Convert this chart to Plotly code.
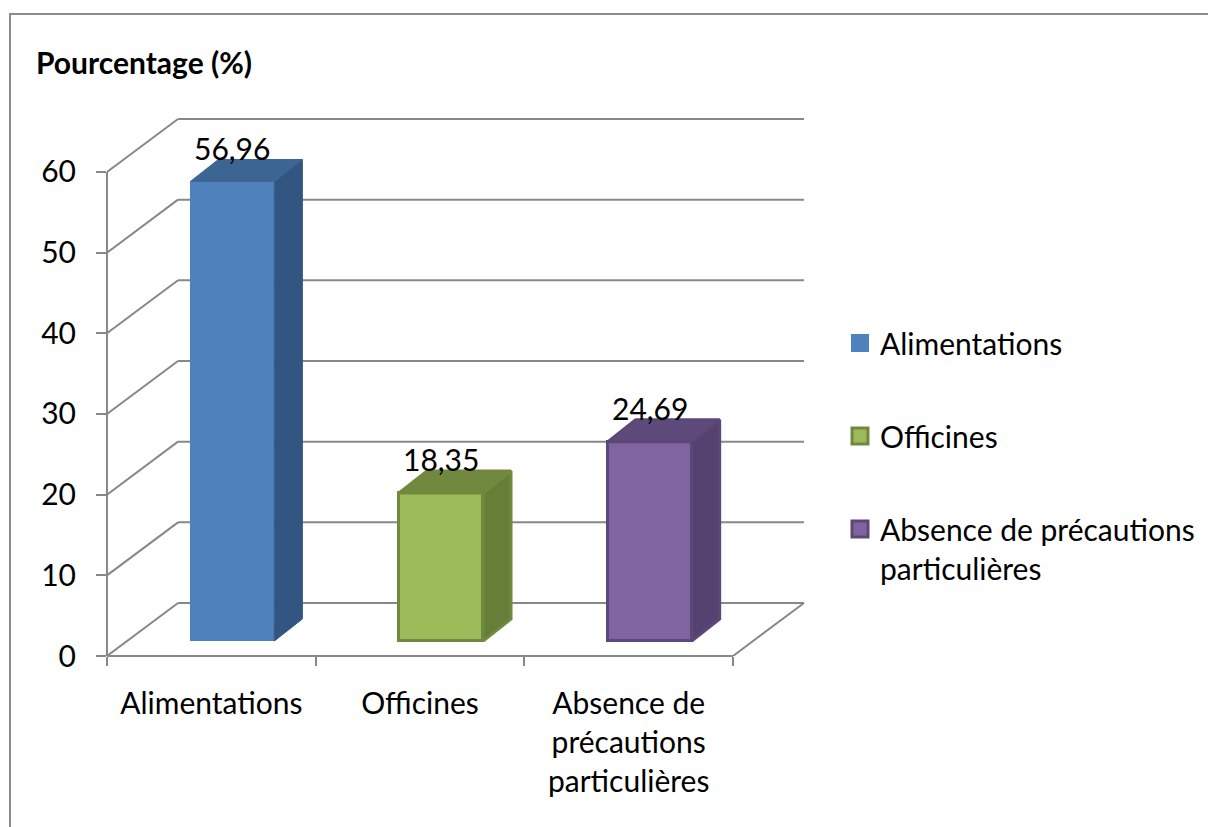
import plotly.graph_objects as go

# ---- data -----------------------------------------------------------------
categories = ["Alimentations", "Officines", "Absence de précautions particulières"]
axis_labels = ["Alimentations", "Officines", "Absence de<br>précautions<br>particulières"]
legend_labels = ["Alimentations", "Officines", "Absence de précautions<br>particulières"]
values = [56.96, 18.35, 24.69]
y_ticks = [0, 10, 20, 30, 40, 50, 60]

# ---- styling --------------------------------------------------------------
front_colors = ["#4F81BD", "#9BBB59", "#8064A2"]
top_colors = ["#3D6594", "#71893F", "#5F4A7C"]
side_colors = ["#325582", "#677E39", "#554270"]
edge_colors = ["#4F81BD", "#71893F", "#5C4776"]
edge_widths = [0, 3, 3]
grid_color = "#888888"
FONT = "Lato"
FS = 30

W, H = 1208, 827
ML, MR, MT, MB = 107, 388, 100, 171
PW, PH = W - ML - MR, H - MT - MB

CAT_PX = 208.67          # pixels per category
VAL_PX = 8.067           # pixels per percentage point
X0 = -0.5
X1 = X0 + PW / CAT_PX
Y1 = PH / VAL_PX
X_END = X0 + len(categories)

# 3-D offsets (in axis units)
WALL_DX, WALL_DY = 71 / CAT_PX, 53 / VAL_PX      # back wall
BAR_DX, BAR_DY = 21 / CAT_PX, 15 / VAL_PX        # bar front plane
DEPTH_DX, DEPTH_DY = 28 / CAT_PX, 22 / VAL_PX    # bar depth
BAR_W = 84 / CAT_PX


def px_to_paper(px, py):
    return (px - ML) / PW, (H - MB - py) / PH


fig = go.Figure()

# front faces of the bars
centers = [i + BAR_DX for i in range(len(categories))]
fig.add_trace(go.Bar(
    x=centers, y=values, base=BAR_DY, width=BAR_W,
    marker=dict(color=front_colors, line=dict(color=edge_colors, width=edge_widths)),
    showlegend=False, hoverinfo="skip",
))

# side and top faces
for i, v in enumerate(values):
    c = centers[i]
    xl, xr = c - BAR_W / 2, c + BAR_W / 2
    yb, yt = BAR_DY, BAR_DY + v
    lw = edge_widths[i] if edge_widths[i] else 1
    side_x = [xr, xr + DEPTH_DX, xr + DEPTH_DX, xr, xr]
    side_y = [yb, yb + DEPTH_DY, yt + DEPTH_DY, yt, yb]
    top_x = [xl, xl + DEPTH_DX, xr + DEPTH_DX, xr, xl]
    top_y = [yt, yt + DEPTH_DY, yt + DEPTH_DY, yt, yt]
    edge = edge_colors[i] if edge_widths[i] else side_colors[i]
    fig.add_trace(go.Scatter(x=side_x, y=side_y, mode="lines", fill="toself",
                             fillcolor=side_colors[i], line=dict(color=edge, width=lw),
                             showlegend=False, hoverinfo="skip"))
    edge = edge_colors[i] if edge_widths[i] else top_colors[i]
    fig.add_trace(go.Scatter(x=top_x, y=top_y, mode="lines", fill="toself",
                             fillcolor=top_colors[i], line=dict(color=edge, width=lw),
                             showlegend=False, hoverinfo="skip"))
    fig.add_annotation(x=c, y=yt + DEPTH_DY, text=f"{v:.2f}".replace(".", ","),
                       showarrow=False, yanchor="bottom", yshift=-8,
                       font=dict(family=FONT, size=FS, color="black"))

# legend entries
for i, lab in enumerate(legend_labels):
    fig.add_trace(go.Scatter(
        x=[None], y=[None], mode="markers", name=lab, legendgroup=f"g{i}",
        marker=dict(symbol="square", size=16, color=front_colors[i],
                    line=dict(color=edge_colors[i], width=2 if i == 0 else 3)),
    ))

# walls and floor
shapes = []
for v in y_ticks:
    shapes.append(dict(type="line", xref="x", yref="y", x0=X0, y0=v,
                       x1=X0 + WALL_DX, y1=v + WALL_DY, layer="below",
                       line=dict(color=grid_color, width=2)))
    shapes.append(dict(type="line", xref="x", yref="y", x0=X0 + WALL_DX, y0=v + WALL_DY,
                       x1=X_END + WALL_DX, y1=v + WALL_DY, layer="below",
                       line=dict(color=grid_color, width=2)))
shapes.append(dict(type="line", xref="x", yref="y", x0=X_END, y0=0,
                   x1=X_END + WALL_DX, y1=WALL_DY, layer="below",
                   line=dict(color=grid_color, width=2)))
shapes.append(dict(type="line", xref="x", yref="paper", x0=X0, y0=0, x1=X_END, y1=0,
                   line=dict(color=grid_color, width=2)))
shapes.append(dict(type="line", xref="paper", yref="y", x0=0, y0=0, x1=0, y1=y_ticks[-1],
                   line=dict(color=grid_color, width=2)))
# chart frame
bx0, by0 = px_to_paper(10, 14)
bx1, by1 = px_to_paper(W + 20, H + 20)
shapes.append(dict(type="rect", xref="paper", yref="paper", x0=bx0, y0=by1, x1=bx1, y1=by0,
                   line=dict(color="#8C8C8C", width=2), fillcolor="rgba(0,0,0,0)"))

fig.update_layout(
    width=W, height=H,
    margin=dict(l=ML, r=MR, t=MT, b=MB, pad=0),
    paper_bgcolor="white", plot_bgcolor="white",
    font=dict(family=FONT, size=FS, color="black"),
    bargap=0,
    shapes=shapes,
    title=dict(text="<b>Pourcentage (%)</b>", xref="container", yref="container",
               x=36 / W, xanchor="left", y=1 - 63 / H, yanchor="middle",
               font=dict(family=FONT, size=30, color="black")),
    xaxis=dict(range=[X0, X1], tickvals=list(range(len(categories))), ticktext=axis_labels,
               ticks="", showgrid=False, zeroline=False, showline=False,
               ticklabelstandoff=27,
               minor=dict(tickvals=[X0 + k for k in range(len(categories) + 1)],
                          ticks="outside", ticklen=9, tickwidth=2, tickcolor=grid_color,
                          showgrid=False)),
    yaxis=dict(range=[0, Y1], tickvals=y_ticks, ticks="outside", ticklen=10, tickwidth=2,
               tickcolor=grid_color, showgrid=False, zeroline=False, showline=False,
               ticklabelstandoff=14),
    legend=dict(xref="container", yref="container", x=840 / W, y=1 - 317 / H,
                xanchor="left", yanchor="top", valign="top", tracegroupgap=51,
                font=dict(family=FONT, size=FS, color="black"),
                bgcolor="rgba(0,0,0,0)"),
    showlegend=True,
)

fig.write_html("out.html")
